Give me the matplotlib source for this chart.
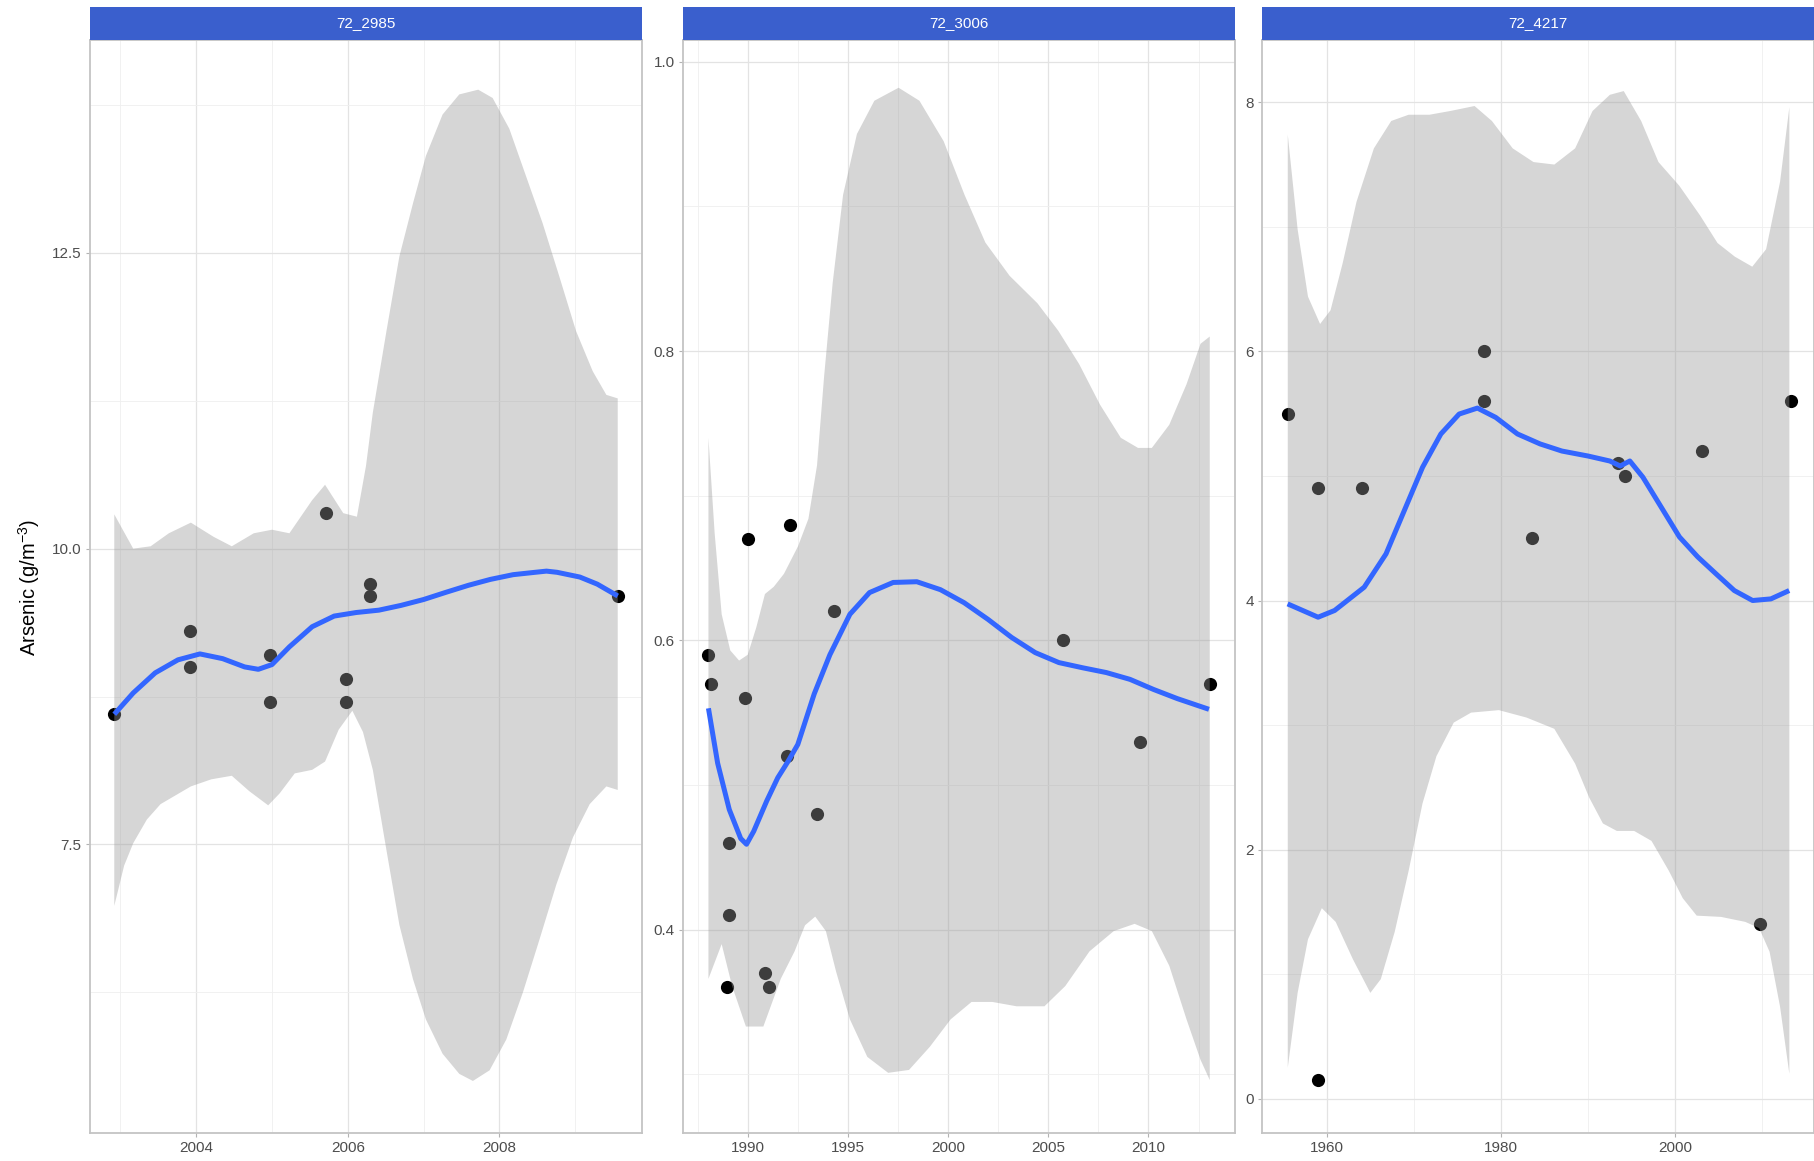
import matplotlib
matplotlib.use("Agg")
import matplotlib.pyplot as plt
from matplotlib.ticker import FixedLocator

plt.rcParams["font.family"] = ["Liberation Sans", "DejaVu Sans"]
plt.rcParams["mathtext.default"] = "regular"

# ---------------- data ----------------
station_ids = ["72_2985", "72_3006", "72_4217"]

# 72_2985 observations
obs1_year = [2002.92, 2003.92, 2003.92, 2004.98, 2004.98, 2005.71, 2005.97, 2005.97, 2006.29, 2006.29, 2009.56]
obs1_value = [8.6, 9.3, 9.0, 9.1, 8.7, 10.3, 8.9, 8.7, 9.7, 9.6, 9.6]
# 72_2985 smooth fit and its confidence band
fit1_year = [2002.92, 2003.17, 2003.46, 2003.76, 2004.05, 2004.35, 2004.64, 2004.82, 2005.0, 2005.23,
             2005.53, 2005.82, 2006.11, 2006.41, 2006.7, 2007.0, 2007.29, 2007.59, 2007.88, 2008.18,
             2008.47, 2008.62, 2008.76, 2009.06, 2009.29, 2009.56]
fit1_value = [8.60, 8.78, 8.95, 9.06, 9.11, 9.07, 9.00, 8.98, 9.02, 9.17,
              9.34, 9.43, 9.46, 9.48, 9.52, 9.57, 9.63, 9.69, 9.74, 9.78,
              9.80, 9.81, 9.80, 9.76, 9.70, 9.60]
band1_hi_year = [2002.92, 2003.17, 2003.40, 2003.64, 2003.93, 2004.23, 2004.47, 2004.76, 2005.0, 2005.23,
                 2005.53, 2005.70, 2005.94, 2006.12, 2006.24, 2006.33, 2006.51, 2006.68, 2006.86, 2007.03,
                 2007.25, 2007.47, 2007.72, 2007.91, 2008.13, 2008.35, 2008.57, 2008.79, 2009.01, 2009.23,
                 2009.41, 2009.56]
band1_hi = [10.29, 10.00, 10.02, 10.13, 10.22, 10.10, 10.02, 10.13, 10.16, 10.13,
            10.41, 10.54, 10.30, 10.27, 10.70, 11.15, 11.84, 12.47, 12.92, 13.32,
            13.67, 13.84, 13.88, 13.81, 13.55, 13.15, 12.75, 12.30, 11.84, 11.50,
            11.30, 11.27]
band1_lo_year = [2002.92, 2003.05, 2003.17, 2003.35, 2003.53, 2003.93, 2004.2, 2004.47, 2004.7, 2004.95,
                 2005.1, 2005.3, 2005.53, 2005.7, 2005.88, 2006.06, 2006.2, 2006.33, 2006.51, 2006.68,
                 2006.86, 2007.03, 2007.25, 2007.47, 2007.65, 2007.87, 2008.09, 2008.31, 2008.53, 2008.75,
                 2008.97, 2009.19, 2009.41, 2009.56]
band1_lo = [6.98, 7.32, 7.51, 7.71, 7.84, 7.99, 8.05, 8.08, 7.95, 7.83,
            7.93, 8.10, 8.13, 8.20, 8.47, 8.63, 8.45, 8.13, 7.45, 6.82,
            6.36, 6.02, 5.73, 5.56, 5.50, 5.59, 5.85, 6.25, 6.70, 7.16,
            7.56, 7.84, 7.99, 7.96]

# 72_3006 observations
obs2_year = [1988.04, 1988.16, 1989.87, 1990.01, 1989.08, 1989.08, 1988.95, 1992.10, 1991.98, 1990.88,
             1991.07, 1993.47, 1994.30, 2005.75, 2009.57, 2013.06]
obs2_value = [0.59, 0.57, 0.56, 0.67, 0.46, 0.41, 0.36, 0.68, 0.52, 0.37,
              0.36, 0.48, 0.62, 0.60, 0.53, 0.57]
fit2_year = [1988.04, 1988.5, 1989.08, 1989.65, 1989.94, 1990.3, 1990.95, 1991.5, 1992.0, 1992.5,
             1993.32, 1994.1, 1995.1, 1996.08, 1997.26, 1998.44, 1999.62, 2000.8, 2001.99, 2003.17,
             2004.35, 2005.53, 2006.72, 2007.9, 2009.08, 2010.26, 2011.44, 2013.02]
fit2_value = [0.553, 0.515, 0.483, 0.463, 0.459, 0.468, 0.489, 0.505, 0.516, 0.528,
              0.563, 0.590, 0.618, 0.633, 0.640, 0.6405, 0.635, 0.626, 0.6145, 0.602,
              0.5915, 0.5846, 0.581, 0.5777, 0.573, 0.566, 0.5597, 0.5523]
band2_hi_year = [1988.04, 1988.35, 1988.70, 1989.13, 1989.57, 1990.0, 1990.43, 1990.86, 1991.3, 1991.81,
                 1992.51, 1993.03, 1993.46, 1993.81, 1994.24, 1994.76, 1995.45, 1996.32, 1997.53, 1998.57,
                 1999.78, 2000.82, 2001.86, 2003.07, 2004.46, 2005.5, 2006.54, 2007.58, 2008.62, 2009.48,
                 2010.17, 2011.04, 2011.9, 2012.6, 2013.06]
band2_hi = [0.740, 0.674, 0.618, 0.593, 0.586, 0.590, 0.609, 0.632, 0.637, 0.646,
            0.665, 0.684, 0.721, 0.782, 0.847, 0.908, 0.950, 0.973, 0.982, 0.973,
            0.945, 0.908, 0.875, 0.852, 0.833, 0.814, 0.791, 0.763, 0.740, 0.733,
            0.733, 0.749, 0.777, 0.805, 0.810]
band2_lo_year = [1988.04, 1988.70, 1989.22, 1989.91, 1990.78, 1991.65, 1992.34, 1992.86, 1993.37, 1993.9,
                 1994.41, 1995.1, 1995.97, 1997.01, 1998.05, 1999.09, 2000.13, 2001.17, 2002.21, 2003.42,
                 2004.81, 2005.85, 2007.06, 2008.27, 2009.31, 2010.17, 2011.04, 2011.9, 2012.6, 2013.06]
band2_lo = [0.366, 0.390, 0.361, 0.333, 0.333, 0.366, 0.385, 0.403, 0.409, 0.399,
            0.371, 0.338, 0.312, 0.301, 0.303, 0.319, 0.338, 0.350, 0.350, 0.347,
            0.347, 0.361, 0.385, 0.399, 0.404, 0.399, 0.375, 0.338, 0.310, 0.296]

# 72_4217 observations
obs3_year = [1955.5, 1959.0, 1959.0, 1964.05, 1978.1, 1978.1, 1983.58, 1993.45, 1994.3, 2003.04, 2009.7, 2013.3]
obs3_value = [5.5, 4.9, 0.15, 4.9, 6.0, 5.6, 4.5, 5.1, 5.0, 5.2, 1.4, 5.6]
fit3_year = [1955.5, 1959.0, 1960.9, 1964.3, 1966.8, 1968.9, 1971.0, 1973.1, 1975.2, 1977.3,
             1979.4, 1981.9, 1984.5, 1987.0, 1990.0, 1992.5, 1993.7, 1994.8, 1996.3, 1998.4,
             2000.5, 2002.6, 2004.7, 2006.8, 2008.9, 2011.0, 2013.1]
fit3_value = [3.973, 3.866, 3.92, 4.107, 4.374, 4.722, 5.07, 5.337, 5.497, 5.545,
              5.47, 5.337, 5.257, 5.20, 5.16, 5.12, 5.08, 5.12, 4.99, 4.75,
              4.51, 4.35, 4.214, 4.08, 4.00, 4.013, 4.08]
band3_hi_year = [1955.52, 1956.65, 1957.84, 1959.23, 1960.43, 1961.83, 1963.41, 1965.41, 1967.4, 1969.4,
                 1971.79, 1974.18, 1976.97, 1978.96, 1981.35, 1983.74, 1986.13, 1988.52, 1990.52, 1992.51,
                 1994.1, 1996.1, 1998.09, 2000.48, 2002.88, 2004.87, 2006.87, 2008.86, 2010.45, 2012.05,
                 2013.12]
band3_hi = [7.74, 6.98, 6.44, 6.22, 6.33, 6.71, 7.20, 7.63, 7.85, 7.90,
            7.90, 7.93, 7.97, 7.85, 7.63, 7.52, 7.50, 7.63, 7.93, 8.06,
            8.09, 7.85, 7.52, 7.33, 7.09, 6.87, 6.76, 6.68, 6.82, 7.36,
            7.96]
band3_lo_year = [1955.52, 1956.65, 1957.84, 1959.43, 1961.02, 1963.0, 1965.0, 1966.2, 1967.8, 1969.4,
                 1970.99, 1972.59, 1974.58, 1976.57, 1979.76, 1982.95, 1986.13, 1988.52, 1990.12, 1991.71,
                 1993.31, 1995.3, 1997.29, 1999.28, 2000.88, 2002.48, 2005.27, 2008.06, 2009.65, 2010.85,
                 2012.05, 2013.12]
band3_lo = [0.25, 0.85, 1.28, 1.53, 1.42, 1.12, 0.85, 0.96, 1.34, 1.83,
            2.37, 2.75, 3.02, 3.10, 3.12, 3.06, 2.97, 2.69, 2.42, 2.21,
            2.15, 2.15, 2.07, 1.83, 1.61, 1.47, 1.46, 1.42, 1.37, 1.18,
            0.74, 0.20]

# axis scales per panel
x_limits = [(2002.60, 2009.88), (1986.77, 2014.32), (1952.56, 2015.95)]
y_limits = [(5.06, 14.30), (0.2594, 1.015), (-0.275, 8.50)]
x_major = [[2004, 2006, 2008], [1990, 1995, 2000, 2005, 2010], [1960, 1980, 2000]]
x_minor = [[2003, 2005, 2007, 2009], [1987.5, 1992.5, 1997.5, 2002.5, 2007.5, 2012.5], [1970, 1990, 2010]]
y_major = [[7.5, 10.0, 12.5], [0.4, 0.6, 0.8, 1.0], [0, 2, 4, 6, 8]]
y_major_labels = [["7.5", "10.0", "12.5"], ["0.4", "0.6", "0.8", "1.0"], ["0", "2", "4", "6", "8"]]
y_minor = [[6.25, 8.75, 11.25, 13.75], [0.3, 0.5, 0.7, 0.9], [1, 3, 5, 7]]

panels = [
    (obs1_year, obs1_value, fit1_year, fit1_value, band1_hi_year, band1_hi, band1_lo_year, band1_lo),
    (obs2_year, obs2_value, fit2_year, fit2_value, band2_hi_year, band2_hi, band2_lo_year, band2_lo),
    (obs3_year, obs3_value, fit3_year, fit3_value, band3_hi_year, band3_hi, band3_lo_year, band3_lo),
]

# ---------------- layout ----------------
W, H = 1814, 1161
fig = plt.figure(figsize=(W / 100, H / 100), dpi=100)
fig.patch.set_facecolor("white")

panel_left = [90, 683, 1262]
panel_width = 552
panel_top, panel_bottom = 40, 1133
strip_top = 7

grid_col = "#E3E3E3"
border_col = "#C4C4C4"
text_col = "#4D4D4D"
strip_col = "#3A5FCD"

for i, (ox, oy, fx, fy, hx, hy, lx, ly) in enumerate(panels):
    left = panel_left[i] / W
    width = min(panel_width, W - panel_left[i]) / W
    ax = fig.add_axes([left, 1 - panel_bottom / H, width, (panel_bottom - panel_top) / H])
    ax.set_xlim(*x_limits[i])
    ax.set_ylim(*y_limits[i])

    ax.xaxis.set_major_locator(FixedLocator(x_major[i]))
    ax.xaxis.set_minor_locator(FixedLocator(x_minor[i]))
    ax.yaxis.set_major_locator(FixedLocator(y_major[i]))
    ax.yaxis.set_minor_locator(FixedLocator(y_minor[i]))
    ax.set_xticklabels([str(v) for v in x_major[i]])
    ax.set_yticklabels(y_major_labels[i])

    ax.grid(which="major", color=grid_col, linewidth=0.9, zorder=0)
    ax.grid(which="minor", color="#EFEFEF", linewidth=0.6, zorder=0)
    ax.set_axisbelow(True)

    for side in ax.spines.values():
        side.set_color(border_col)
        side.set_linewidth(1.3)

    ax.tick_params(which="major", length=3, width=0.8, color="#B3B3B3", pad=3,
                   labelsize=11, labelcolor=text_col)
    ax.tick_params(which="minor", length=0)

    # observations sit beneath the confidence band
    ax.scatter(ox, oy, s=90, color="black", linewidths=0, zorder=2)

    # confidence band as a closed polygon: upper edge then lower edge reversed
    poly_x = list(hx) + list(lx)[::-1]
    poly_y = list(hy) + list(ly)[::-1]
    ax.fill(poly_x, poly_y, color="#999999", alpha=0.4, linewidth=0, zorder=3)

    ax.plot(fx, fy, color="#3366FF", linewidth=3.6, solid_capstyle="butt",
            solid_joinstyle="round", zorder=4)

    # facet strip
    sax = fig.add_axes([left, 1 - panel_top / H, width, (panel_top - strip_top) / H])
    sax.set_facecolor(strip_col)
    sax.set_xticks([])
    sax.set_yticks([])
    for side in sax.spines.values():
        side.set_visible(False)
    sax.text(0.5, 0.5, station_ids[i], color="white", fontsize=11,
             ha="center", va="center", transform=sax.transAxes)

fig.text(29 / W, 1 - 587 / H, "Arsenic (g/m$^{-3}$)", rotation=90,
         ha="center", va="center", fontsize=14.5, color="black")

fig.savefig("out.png", dpi=100, facecolor="white")
